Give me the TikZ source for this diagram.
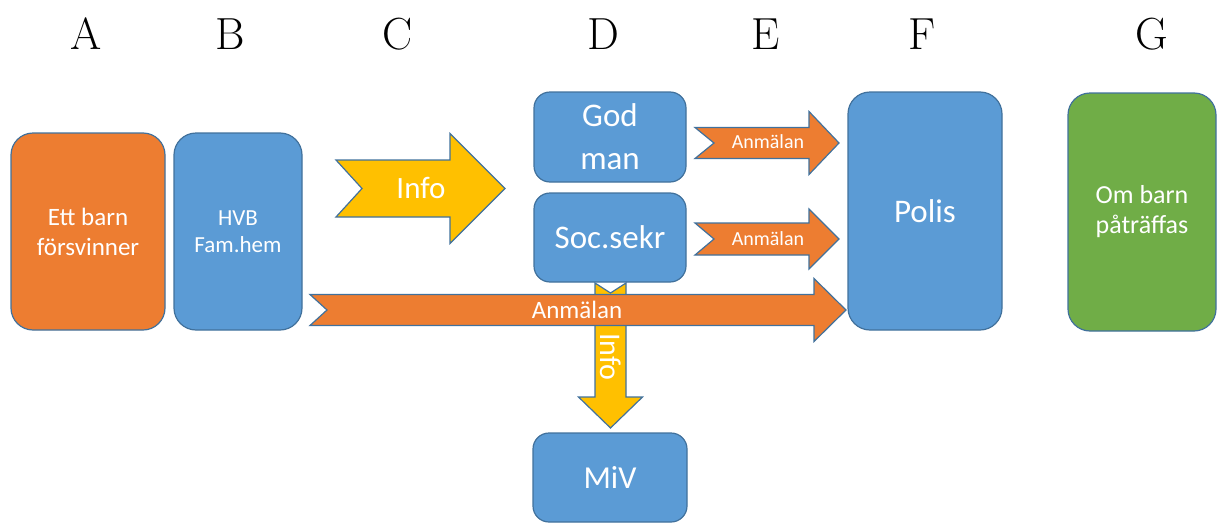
\documentclass[tikz,border=0pt]{standalone}
\usepackage{fontspec}
\setmainfont{Carlito}
\newfontfamily\letterfont{Latin Modern Roman}
\usetikzlibrary{calc}

\definecolor{boxorange}{HTML}{ED7D31}
\definecolor{boxblue}{HTML}{5B9BD5}
\definecolor{infoyellow}{HTML}{FFC000}
\definecolor{boxgreen}{HTML}{70AD47}
\definecolor{edgeline}{HTML}{41719C}

\newcommand{\fsz}[2]{\fontsize{#1}{#2}\selectfont}

% notched block arrow pointing right: style, tail, tip, body half, head half, head length, notch
\newcommand{\hblockarrow}[7]{%
  \path[#1] let \p1=#2, \p2=#3 in
    (\x1,\y2+#4) -- (\x2-#6,\y2+#4) -- (\x2-#6,\y2+#5) -- (\x2,\y2)
    -- (\x2-#6,\y2-#5) -- (\x2-#6,\y2-#4) -- (\x1,\y2-#4) -- (\x1+#7,\y2) -- cycle;}
% same, pointing down
\newcommand{\vblockarrow}[7]{%
  \path[#1] let \p1=#2, \p2=#3 in
    (\x1-#4,\y1) -- (\x1-#4,\y2+#6) -- (\x1-#5,\y2+#6) -- (\x1,\y2)
    -- (\x1+#5,\y2+#6) -- (\x1+#4,\y2+#6) -- (\x1+#4,\y1) -- (\x1,\y1-#7) -- cycle;}

\tikzset{
  card/.style={draw=edgeline, line width=1.2pt, rounded corners=22pt,
    text=white, align=center, inner sep=0pt},
  smallcard/.style={card, rounded corners=16pt},
  flow/.style={draw=edgeline, line width=1.2pt, line join=miter},
  flowlabel/.style={text=white, inner sep=0pt},
  letter/.style={font=\letterfont\fsz{45}{45}, inner sep=0pt, anchor=base}
}

\begin{document}
\begin{tikzpicture}[x=1pt,y=-1pt]
\useasboundingbox (0,0) rectangle (1219,525);

% column letters
\node[letter] (colA) at (86,49) {A};
\node[letter] (colB) at (230,49) {B};
\node[letter] (colC) at (398,49) {C};
\node[letter] (colD) at (603,49) {D};
\node[letter] (colE) at (766,49) {E};
\node[letter] (colF) at (922,49) {F};
\node[letter] (colG) at (1152,49) {G};

% info down to MiV, behind the boxes
\coordinate (downtail) at (610.5,283);
\coordinate (downtip) at (610.5,428);
\vblockarrow{flow, fill=infoyellow}{(downtail)}{(downtip)}{15.5pt}{32pt}{31pt}{10pt}
\node[flowlabel, rotate=-90, font=\fsz{30}{30}] (downlabel) at (610.5,357) {Info};

% boxes
\node[card, fill=boxorange, minimum width=154pt, minimum height=197pt,
  font=\fsz{25}{30}] (barn) at (88,231.5) {Ett barn\\försvinner};
\node[card, fill=boxblue, minimum width=128pt, minimum height=197pt,
  font=\fsz{23}{27}] (hvb) at (238,231.5) {HVB\\Fam.hem};
\node[smallcard, fill=boxblue, minimum width=152pt, minimum height=90pt,
  font=\fsz{33}{43}] (godman) at (610,137) {God\\man};
\node[smallcard, fill=boxblue, minimum width=152pt, minimum height=89pt,
  font=\fsz{33}{40}] (socsekr) at (610,237.5) {Soc.sekr};
\node[smallcard, fill=boxblue, minimum width=154pt, minimum height=89pt,
  font=\fsz{32}{40}] (miv) at (610,477.5) {MiV};
\node[card, fill=boxblue, minimum width=154pt, minimum height=238pt,
  font=\fsz{33}{40}] (polis) at (925,211) {Polis};
\node[card, fill=boxgreen, minimum width=148pt, minimum height=238pt,
  font=\fsz{26}{30}] (pattraffas) at (1142,212) {Om barn\\påträffas};

% info to god man / soc.sekr
\coordinate (infotail) at (336,188.5);
\coordinate (infotip) at (505,188.5);
\hblockarrow{flow, fill=infoyellow}{(infotail)}{(infotip)}{28.5pt}{55pt}{55pt}{26pt}
\node[flowlabel, font=\fsz{31}{31}] (infolabel) at (421,188) {Info};

% anmälan to polis
\coordinate (godtail) at (695,143);
\coordinate (godtip) at (839,143);
\hblockarrow{flow, fill=boxorange}{(godtail)}{(godtip)}{15.5pt}{31.5pt}{30pt}{19pt}
\node[flowlabel, font=\fsz{20}{20}] (godlabel) at (768,142) {Anmälan};

\coordinate (soctail) at (695,239);
\coordinate (soctip) at (839,239);
\hblockarrow{flow, fill=boxorange}{(soctail)}{(soctip)}{16pt}{30pt}{30pt}{19pt}
\node[flowlabel, font=\fsz{20}{20}] (soclabel) at (768,239) {Anmälan};

\coordinate (hvbtail) at (310,310);
\coordinate (hvbtip) at (846,310);
\hblockarrow{flow, fill=boxorange}{(hvbtail)}{(hvbtip)}{15.5pt}{31.5pt}{32pt}{17pt}
\node[flowlabel, font=\fsz{25}{25}] (hvblabel) at (577,310) {Anmälan};

\end{tikzpicture}
\end{document}
